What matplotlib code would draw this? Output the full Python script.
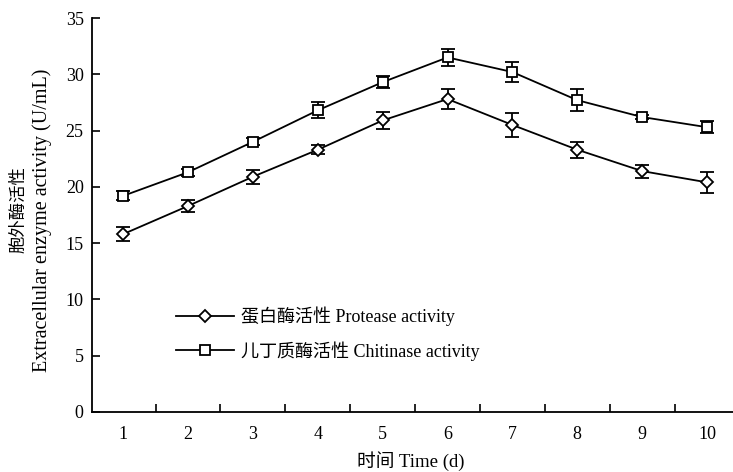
import matplotlib.pyplot as plt
from matplotlib.lines import Line2D

# 时间 (d)
days = [1, 2, 3, 4, 5, 6, 7, 8, 9, 10]

# 蛋白酶活性 Protease activity
protease = [15.8, 18.3, 20.9, 23.3, 25.9, 27.8, 25.5, 23.3, 21.4, 20.4]
protease_err = [0.6, 0.55, 0.63, 0.4, 0.72, 0.86, 1.1, 0.72, 0.58, 0.95]

# 几丁质酶活性 Chitinase activity
chitinase = [19.2, 21.3, 24.0, 26.8, 29.3, 31.5, 30.2, 27.7, 26.2, 25.3]
chitinase_err = [0.4, 0.3, 0.3, 0.7, 0.55, 0.78, 0.87, 0.95, 0.15, 0.55]

plt.rcParams['font.family'] = ['Liberation Serif', 'Noto Sans CJK SC']
plt.rcParams['font.size'] = 13

fig = plt.figure(figsize=(7.33, 4.72), dpi=100)
ax = fig.add_axes([92 / 733, 1 - 412 / 472, 1 - 92 / 733, (412 - 18) / 472])

style = dict(color='black', lw=1.3, mfc='white', mec='black', mew=1.3,
             capsize=5, elinewidth=1.3, capthick=1.3)
ax.errorbar(days, protease, yerr=protease_err, marker='D', ms=6, **style)
ax.errorbar(days, chitinase, yerr=chitinase_err, marker='s', ms=7, **style)

ax.set_xlim(0.52, 10.4)
ax.set_ylim(0, 35)
ax.set_yticks(range(0, 36, 5))
ax.set_xticks(days)
ax.set_xticks([d + 0.5 for d in days[:-1]], minor=True)
ax.tick_params(axis='x', which='major', length=0, pad=10)
ax.tick_params(axis='x', which='minor', direction='in', length=6, width=1.2)
ax.tick_params(axis='y', direction='in', length=6, width=1.2, pad=6)

for side in ['top', 'right']:
    ax.spines[side].set_visible(False)
for side in ['left', 'bottom']:
    ax.spines[side].set_linewidth(1.3)

fig.text(411 / 733, 1 - 461 / 472, '时间 Time (d)', ha='center', va='center', fontsize=13.5)
fig.text(19 / 733, 1 - 210 / 472, '胞外酶活性', rotation=90, ha='center', va='center',
         fontsize=12.5)
fig.text(42 / 733, 1 - 220 / 472, 'Extracellular enzyme activity (U/mL)',
         rotation=90, ha='center', va='center', fontsize=14.5)

handles = [
    Line2D([], [], color='black', lw=1.3, marker='D', ms=6, mfc='white', mew=1.3),
    Line2D([], [], color='black', lw=1.3, marker='s', ms=7, mfc='white', mew=1.3),
]
labels = ['蛋白酶活性 Protease activity', '儿丁质酶活性 Chitinase activity']
ax.legend(handles, labels, loc='upper left', bbox_to_anchor=(160 / 733, 1 - 290 / 472),
          bbox_transform=fig.transFigure, frameon=False, fontsize=13,
          handlelength=3.2, labelspacing=0.85, handletextpad=0.4)

fig.savefig('out.png', dpi=100)
